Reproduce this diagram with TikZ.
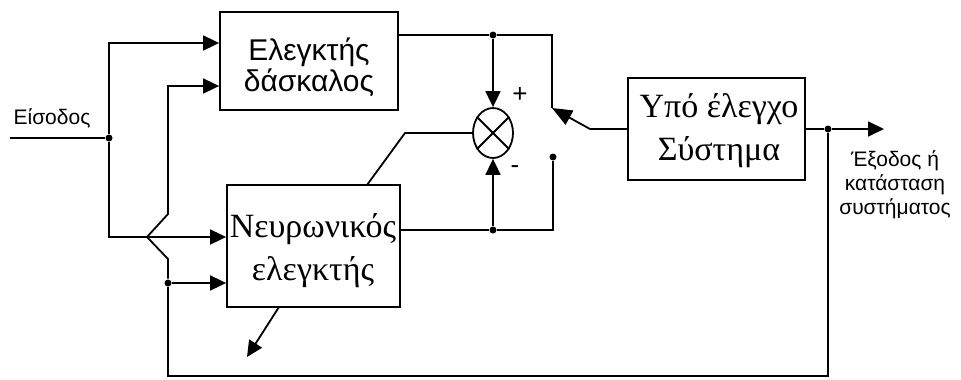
\documentclass[tikz,border=0pt]{standalone}
\usepackage{fontspec}
\setmainfont{Liberation Serif}
\newfontfamily\sansgr{Liberation Sans}
\usetikzlibrary{arrows.meta,shapes.geometric,calc}
\begin{document}
\begin{tikzpicture}[x=1pt,y=-1pt, line width=1.8pt,
  blk/.style={draw, rectangle, inner sep=0pt},
  arr/.style={-{Triangle[length=16pt,width=15pt]}},
  jdot/.style={circle, fill, inner sep=0pt, minimum size=7pt},
  sanstxt/.style={font=\sansgr\fontsize{30}{31}\selectfont, align=center, inner sep=0pt},
  seriftxt/.style={font=\fontsize{34}{43}\selectfont, align=center, inner sep=0pt},
  lbl/.style={font=\sansgr\fontsize{21}{24}\selectfont, align=center, inner sep=0pt}]
\useasboundingbox (0,0) rectangle (961,380);

% blocks
\node[blk, minimum width=178pt, minimum height=98pt] (teach) at (309,61) {};
\node[sanstxt] (teachtxt) at (309,67) {Ελεγκτής\\δάσκαλος};
\node[blk, minimum width=173pt, minimum height=122pt] (neur) at (313.5,246) {};
\node[seriftxt] (neurtxt) at (313,251) {Νευρωνικός\\ελεγκτής};
\node[blk, minimum width=177pt, minimum height=102pt] (plant) at (716.5,129) {};
\node[seriftxt] (planttxt) at (719,131) {Υπό έλεγχο\\Σύστημα};
\node[draw, ellipse, minimum width=40pt, minimum height=50pt, inner sep=0pt] (sum) at (493,133) {};
\draw (sum.45) -- (sum.225) (sum.135) -- (sum.315);

% labels
\node[lbl] (inlbl) at (52,118) {Είσοδος};
\node[lbl] (outlbl) at (895,185) {Έξοδος ή\\κατάσταση\\συστήματος};
\node[font=\sansgr\fontsize{26}{26}\selectfont, inner sep=0pt] (plus) at (520,95) {+};
\node[font=\sansgr\fontsize{26}{26}\selectfont, inner sep=0pt] (minus) at (515,170) {-};

% coordinates
\coordinate (inL) at (10,138);
\node[jdot] (j1) at (109,138) {};
\coordinate (t1) at (teach.west |- 0,43);
\coordinate (t2) at (teach.west |- 0,86);
\coordinate (n1) at (neur.west |- 0,237);
\coordinate (n2) at (neur.west |- 0,283);
\node[jdot] (j2) at (168,283) {};
\coordinate (hopA) at (168,259);
\coordinate (hopB) at (147,237);
\coordinate (hopC) at (168,214);
\coordinate (tout) at (teach.east |- 0,35);
\node[jdot] (jt) at (493,35) {};
\coordinate (ct) at (552,108);
\coordinate (nout) at (neur.east |- 0,230);
\node[jdot] (jb) at (493,230) {};
\node[jdot] (cb) at (553,157) {};
\coordinate (elb) at (405,133);
\coordinate (ntop) at (367,185);
\coordinate (swk) at (590,129);
\node[jdot] (jo) at (828,129) {};
\coordinate (outR) at (884,129);
\coordinate (fbR) at (828,376);
\coordinate (fbL) at (168,376);
\coordinate (nbot) at (279,307);
\coordinate (nbarr) at (247,357);

% connectors
\draw (inL) -- (j1);
\draw[arr] (j1) |- (t1);
\draw[arr] (j1) |- (n1);
\draw[arr] (j2) -- (n2);
\draw[arr] (j2) -- (hopA) -- (hopB) -- (hopC) |- (t2);
\draw (tout) -- (jt);
\draw (jt) -| (ct |- 0,35) -- (ct);
\draw[arr] (jt) -- (sum.north);
\draw (nout) -- (jb);
\draw (jb) -| (cb);
\draw[arr] (jb) -- (sum.south);
\draw (sum.west) -- (elb) -- (ntop);
\draw[-{Triangle[length=20pt,width=16pt]}] (plant.west) -- (swk) -- (ct);
\draw[arr] (plant.east) -- (jo) -- (outR);
\draw (jo) -- (fbR) -- (fbL) -- (j2);
\draw[arr] (nbot) -- (nbarr);
\end{tikzpicture}
\end{document}
